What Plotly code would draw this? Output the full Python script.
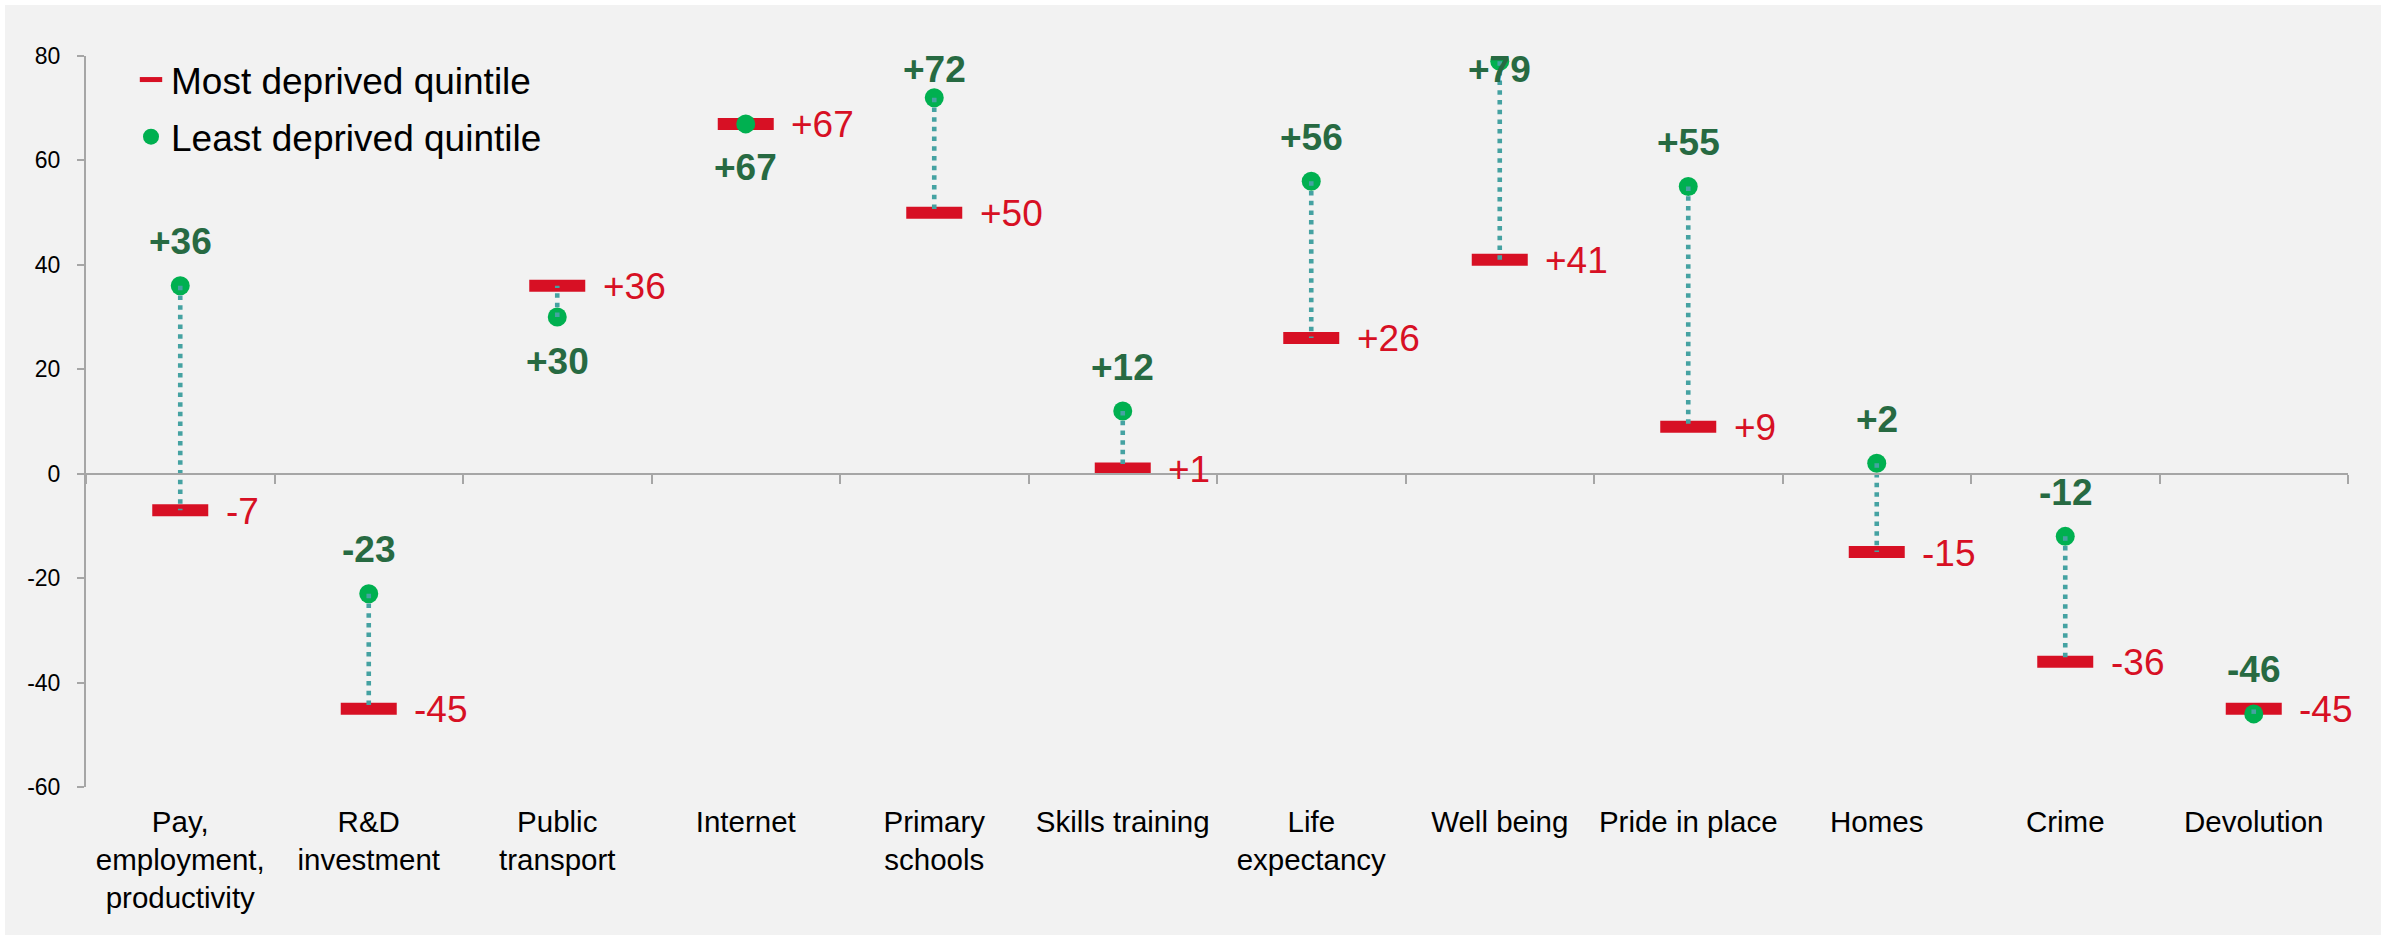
import plotly.graph_objects as go

# ---- data -------------------------------------------------------------
categories = [
    "Pay, employment, productivity", "R&D investment", "Public transport",
    "Internet", "Primary schools", "Skills training", "Life expectancy",
    "Well being", "Pride in place", "Homes", "Crime", "Devolution",
]
tick_labels = [
    "Pay,<br>employment,<br>productivity", "R&D<br>investment", "Public<br>transport",
    "Internet", "Primary<br>schools", "Skills training", "Life<br>expectancy",
    "Well being", "Pride in place", "Homes", "Crime", "Devolution",
]
most_deprived = [-7, -45, 36, 67, 50, 1, 26, 41, 9, -15, -36, -45]
least_deprived = [36, -23, 30, 67, 72, 12, 56, 79, 55, 2, -12, -46]
y_ticks = [-60, -40, -20, 0, 20, 40, 60, 80]

# side of the green dot on which its value label is written
green_label_side = ["above", "above", "below", "below", "above", "above",
                    "above", "above", "above", "above", "above", "above"]

# ---- styling ----------------------------------------------------------
W, H = 2391, 935
PLOT_L, PLOT_R, PLOT_T, PLOT_B = 86, 2348, 56, 787
Y_MIN, Y_MAX = -60, 80
FONT = "Liberation Sans, Arial, sans-serif"
RED = "#d71024"
GREEN = "#00b050"
DARK_GREEN = "#276a42"
TEAL = "#45a2a2"
AXIS_GREY = "#a6a6a6"
PANEL = "#f2f2f2"

px_per_unit = (PLOT_B - PLOT_T) / (Y_MAX - Y_MIN)
idx = list(range(len(categories)))


def y_px(v):
    return PLOT_B - (v - Y_MIN) * px_per_unit


def px_to_paper_x(px):
    return (px - PLOT_L) / (PLOT_R - PLOT_L)


def px_to_paper_y(py):
    return (PLOT_B - py) / (PLOT_B - PLOT_T)


fig = go.Figure()

# dotted connectors between the two quintiles
cx, cy = [], []
for i, lo, hi in zip(idx, least_deprived, most_deprived):
    cx += [i, i, None]
    cy += [lo, hi, None]
fig.add_trace(go.Scatter(
    x=cx, y=cy, xaxis="x2", mode="lines", showlegend=False, hoverinfo="skip",
    line=dict(color=TEAL, width=4.6, dash="4.5px,5.2px"),
))

fig.add_trace(go.Scatter(
    x=idx, y=most_deprived, mode="markers", name="Most deprived quintile",
    legendgroup="most",
    marker=dict(symbol="line-ew", size=40, color=RED, line=dict(color=RED, width=12)),
))
fig.add_trace(go.Scatter(
    x=idx, y=least_deprived, mode="markers", name="Least deprived quintile",
    legendgroup="least",
    marker=dict(symbol="circle", size=19, color=GREEN, line=dict(width=0)),
))

annotations = []
LABEL_GAP = 44
DIGIT_HALF = 13.5
for i, lo, hi, side in zip(idx, least_deprived, most_deprived, green_label_side):
    base = y_px(lo)
    centre = base - LABEL_GAP if side == "above" else base + LABEL_GAP
    centre = max(centre, PLOT_T + DIGIT_HALF)
    annotations.append(dict(
        x=i, y=lo, xref="x", yref="y", text=f"{lo:+d}", showarrow=False,
        xanchor="center", yanchor="middle", yshift=base - centre,
        font=dict(family=FONT, size=37, color=DARK_GREEN, weight="bold"),
    ))
    annotations.append(dict(
        x=i, y=hi, xref="x", yref="y", text=f"{hi:+d}", showarrow=False,
        xanchor="left", yanchor="middle", xshift=43.5, yshift=-1,
        font=dict(family=FONT, size=37, color=RED),
    ))

fig.update_layout(
    width=W, height=H,
    margin=dict(l=PLOT_L, r=W - PLOT_R, t=PLOT_T, b=H - PLOT_B, pad=0),
    paper_bgcolor="white", plot_bgcolor=PANEL,
    font=dict(family=FONT, color="#000000"),
    showlegend=True,
    legend=dict(
        x=px_to_paper_x(131), y=px_to_paper_y(49), xanchor="left", yanchor="top",
        bgcolor="rgba(0,0,0,0)", font=dict(family=FONT, size=37, color="#000000"),
        tracegroupgap=6, traceorder="grouped",
    ),
    xaxis=dict(
        range=[-0.5, len(categories) - 0.5], tickmode="array", tickvals=idx,
        ticktext=tick_labels, ticks="", showline=False, showgrid=False,
        zeroline=False, tickfont=dict(family=FONT, size=29.5, color="#000000"),
        ticklabelstandoff=14,
    ),
    xaxis2=dict(
        overlaying="x", anchor="free", position=(0 - Y_MIN) / (Y_MAX - Y_MIN),
        range=[-0.5, len(categories) - 0.5], tickmode="array",
        tickvals=[i - 0.5 for i in range(len(categories) + 1)],
        ticks="outside", ticklen=9, tickwidth=2, tickcolor=AXIS_GREY,
        showline=True, linecolor=AXIS_GREY, linewidth=2,
        showticklabels=False, showgrid=False, zeroline=False,
    ),
    yaxis=dict(
        range=[Y_MIN, Y_MAX], tickmode="array", tickvals=y_ticks,
        ticktext=[str(v) for v in y_ticks], ticks="outside", ticklen=7,
        tickwidth=2, tickcolor=AXIS_GREY, showline=True, linecolor=AXIS_GREY,
        linewidth=2, showgrid=False, zeroline=False,
        tickfont=dict(family=FONT, size=23, color="#000000"),
        ticklabelstandoff=12,
    ),
    annotations=annotations,
    shapes=[dict(
        type="rect", xref="paper", yref="paper", layer="below",
        x0=px_to_paper_x(5), x1=px_to_paper_x(2381),
        y0=px_to_paper_y(935), y1=px_to_paper_y(5),
        fillcolor=PANEL, line=dict(width=0),
    )],
)

fig.write_html("out.html")
